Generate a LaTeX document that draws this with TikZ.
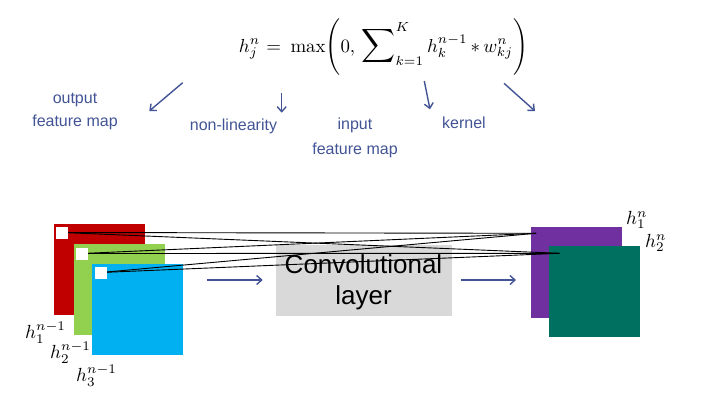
\documentclass[tikz,border=0pt]{standalone}
\usepackage{fontspec}
\usepackage{amsmath}
\setsansfont{Liberation Sans}
\usetikzlibrary{arrows.meta}
\definecolor{lblue}{RGB}{66,84,150}
\definecolor{cred}{RGB}{192,0,0}
\definecolor{cgreen}{RGB}{146,208,80}
\definecolor{cblue}{RGB}{0,176,240}
\definecolor{cpurple}{RGB}{112,48,160}
\definecolor{cteal}{RGB}{0,112,96}
\definecolor{cgray}{RGB}{217,217,217}
\tikzset{
  lbl/.style={text=lblue, font=\sffamily\fontsize{16}{23}\selectfont, align=center, inner sep=0pt},
  larrow/.style={draw=lblue, line width=1.4pt, -{Straight Barb[length=5pt,width=9pt]}},
  fmap/.style={draw=none, inner sep=0pt, minimum width=91pt, minimum height=91pt, anchor=north west},
  wsq/.style={fill=white, draw=none, inner sep=0pt, minimum size=12pt},
  conn/.style={draw=black, line width=0.9pt},
  hlbl/.style={inner sep=0pt}
}
\newcommand{\hm}[1]{\scalebox{1.9}{$#1$}}
\begin{document}
\begin{tikzpicture}[x=1pt,y=-1pt]
\useasboundingbox (0,0) rectangle (702,400);
% equation
\node[inner sep=0pt, anchor=base] (eq) at (383.5,52) {\resizebox{289pt}{!}{$\displaystyle h_j^n \mkern6mu{=}\mkern6mu \max\!\Bigg(0,\, \mathop{\scalebox{1.25}{$\displaystyle\sum$}}\nolimits_{k=1}^{K} h_k^{n-1} \mkern3mu{*}\mkern3mu w_{kj}^n\Bigg)$}};
% labels
\node[lbl] (out) at (75,111.5) {output\\feature map};
\node[lbl] (nl) at (233.5,126.5) {non-linearity};
\node[lbl] (inp) at (355,137.5) {input\\[2pt]feature map};
\node[lbl] (ker) at (464,123) {kernel};
\coordinate (a1s) at (182.7,82.7); \coordinate (a1e) at (149.3,111);
\coordinate (a2s) at (281.7,92.7); \coordinate (a2e) at (281.7,112.7);
\coordinate (a3s) at (424.3,81); \coordinate (a3e) at (430,109.3);
\coordinate (a4s) at (504,83.3); \coordinate (a4e) at (535,111);
\draw[larrow] (a1s) -- (a1e);
\draw[larrow] (a2s) -- (a2e);
\draw[larrow] (a3s) -- (a3e);
\draw[larrow] (a4s) -- (a4e);
% input maps
\node[fmap, fill=cred] (r) at (53.5,224) {};
\node[fmap, fill=cgreen] (g) at (73.5,244) {};
\node[fmap, fill=cblue] (b) at (91.5,263.5) {};
% conv box
\node[fill=cgray, minimum width=176pt, minimum height=71pt, inner sep=0pt] (conv) at (363.7,280.5) {};
\node[font=\sffamily\fontsize{26}{31}\selectfont, align=center, inner sep=0pt] (convt) at (363.5,282.5) {Convolutional\\layer};
% arrows
\coordinate (l1) at (206.7,280); \coordinate (l2) at (262.7,280);
\coordinate (m1) at (460.7,280); \coordinate (m2) at (516,280);
\draw[larrow] (l1) -- (l2);
\draw[larrow] (m1) -- (m2);
% output maps
\node[fmap, fill=cpurple] (pu) at (530.3,226.7) {};
\node[fmap, fill=cteal] (te) at (548.5,245.3) {};
% connection points
\coordinate (p1) at (62,232.5);
\coordinate (p2) at (82,253.5);
\coordinate (p3) at (101,272.5);
\coordinate (q1) at (536,233.3);
\coordinate (q2) at (559.3,253.3);
\foreach \s in {p1,p2,p3}{\foreach \t in {q1,q2}{\draw[conn] (\s) -- (\t);}}
\node[wsq] (w1) at (62,232.5) {};
\node[wsq] (w2) at (82,254) {};
\node[wsq] (w3) at (101,273.3) {};
% math labels
\node[hlbl, anchor=west] (h1) at (25,333) {\hm{h_1^{n-1}}};
\node[hlbl, anchor=west] (h2) at (50,353) {\hm{h_2^{n-1}}};
\node[hlbl, anchor=west] (h3) at (76,376) {\hm{h_3^{n-1}}};
\node[hlbl, anchor=west] (o1) at (626,220) {\hm{h_1^{n}}};
\node[hlbl, anchor=west] (o2) at (645,243) {\hm{h_2^{n}}};
\end{tikzpicture}
\end{document}
